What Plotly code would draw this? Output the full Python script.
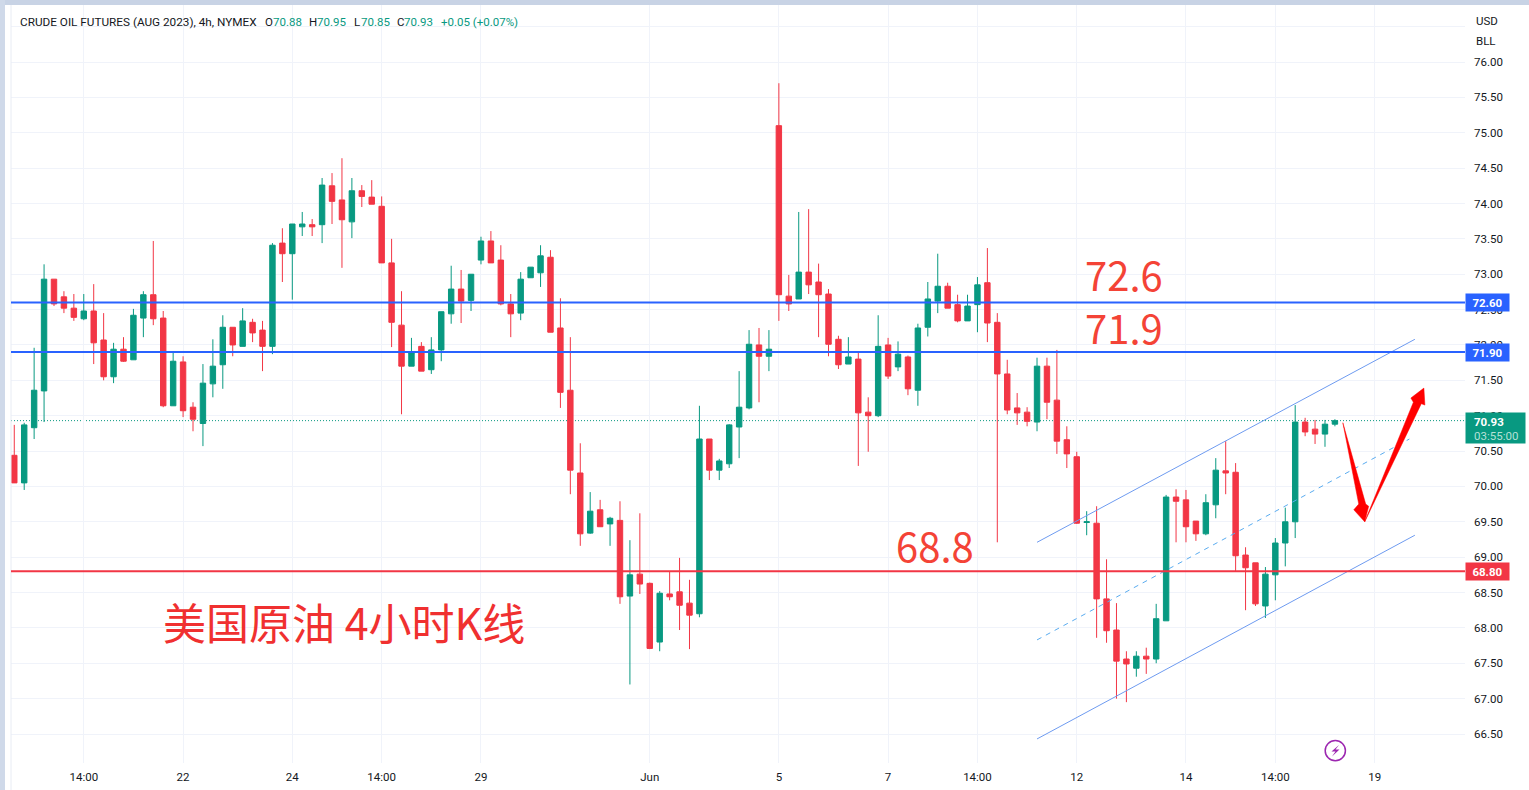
import plotly.graph_objects as go

opens = [70.44,70.05,70.83,71.35,72.93,72.68,72.52,72.37,72.48,72.07,
         71.55,71.94,71.79,72.38,72.71,72.38,71.14,71.76,71.12,70.89,
         71.45,71.72,72.25,71.98,72.32,72.21,71.98,73.44,73.29,73.67,
         73.70,73.70,74.25,74.05,73.74,74.18,74.09,73.96,73.16,72.28,
         71.70,71.98,71.65,71.93,72.44,72.79,72.63,73.20,73.47,73.20,
         72.58,72.45,72.95,73.02,73.24,72.24,71.36,70.19,69.34,69.67,
         69.47,69.52,68.45,68.76,68.63,67.80,68.48,68.51,68.35,68.20,
         70.67,70.23,70.32,70.84,71.11,72.00,71.84,75.10,72.69,72.65,
         73.03,72.89,72.72,72.08,71.73,71.80,71.05,71.00,72.00,71.69,
         71.83,71.36,72.25,72.62,72.83,72.57,72.34,72.57,72.88,72.32,
         71.59,71.11,71.05,70.91,71.70,71.22,70.66,70.42,69.49,69.48,
         68.41,67.97,67.56,67.43,67.60,67.56,68.10,69.85,69.81,69.51,
         69.33,69.74,70.22,70.20,69.03,68.92,68.31,68.75,69.20,69.50,
         70.91,70.81,70.74,70.88]
highs = [70.87,70.90,71.96,73.14,72.93,72.76,72.72,72.72,72.86,72.45,
         72.03,72.11,72.51,72.76,73.47,72.48,71.91,71.84,71.19,71.73,
         72.08,72.42,72.25,72.52,72.37,72.34,73.44,73.65,73.71,73.88,
         73.78,74.36,74.43,74.64,74.36,74.26,74.33,74.10,73.50,72.76,
         72.10,72.04,72.11,72.47,73.12,73.06,73.00,73.53,73.61,73.41,
         72.72,73.03,73.10,73.41,73.34,72.66,72.11,70.61,69.92,69.81,
         69.57,69.79,69.24,69.62,68.64,68.52,68.80,68.99,68.68,71.14,
         70.67,70.39,70.88,71.63,72.21,72.24,72.21,75.70,72.99,73.88,
         73.92,73.15,72.79,72.13,72.11,71.89,71.26,72.42,72.10,72.05,
         71.85,72.30,72.89,73.29,72.88,72.71,72.71,72.96,73.37,72.45,
         71.79,71.32,71.12,71.82,71.82,71.93,70.85,70.49,69.65,69.72,
         68.97,68.35,67.67,67.67,67.72,68.34,69.88,69.96,69.95,69.51,
         69.89,70.40,70.64,70.33,69.14,68.92,68.86,69.27,69.70,71.15,
         70.97,70.94,70.94,70.95]
lows = [70.05,69.95,70.67,70.91,72.55,72.45,72.34,72.35,71.73,71.50,
        71.46,71.76,71.79,72.11,72.28,71.12,71.14,70.98,70.78,70.57,
        71.26,71.38,71.84,71.98,72.04,71.63,71.87,72.89,72.64,73.54,
        73.54,73.44,73.71,73.09,73.51,73.95,73.99,73.16,71.97,71.02,
        71.70,71.63,71.59,71.77,72.30,72.31,72.48,73.14,73.16,72.56,
        72.11,72.35,72.95,72.82,72.18,71.11,69.89,69.16,69.33,69.43,
        69.16,68.34,67.20,68.48,67.70,67.67,68.39,67.97,67.70,68.15,
        70.09,70.09,70.26,70.40,71.09,71.19,71.63,72.34,72.48,72.65,
        72.72,72.11,71.84,71.66,71.73,70.29,70.49,70.98,71.52,71.63,
        71.29,71.14,72.12,72.45,72.52,72.32,72.34,72.18,72.04,69.21,
        71.02,70.87,70.85,70.78,70.95,70.46,70.26,69.47,69.31,67.86,
        67.79,67.00,66.95,67.31,67.35,67.50,68.10,69.21,69.21,69.23,
        69.31,69.55,69.89,68.80,68.25,68.31,68.14,68.39,68.87,69.27,
        70.71,70.60,70.56,70.85]
closes = [70.05,70.87,71.36,72.93,72.58,72.52,72.39,72.48,72.03,71.55,
          71.94,71.77,72.42,72.71,72.37,71.14,71.77,71.07,70.95,71.46,
          71.70,72.25,72.00,72.34,72.17,71.98,73.41,73.29,73.71,73.71,
          73.67,74.26,74.03,73.77,74.18,74.10,73.99,73.16,72.32,71.70,
          71.89,71.63,71.93,72.47,72.79,72.62,73.00,73.47,73.16,72.58,
          72.44,72.93,73.10,73.26,72.18,71.33,70.23,69.33,69.65,69.43,
          69.55,68.44,68.75,68.62,67.71,68.49,68.44,68.32,68.18,70.67,
          70.23,70.36,70.87,71.12,72.01,71.84,71.94,72.71,72.58,73.03,
          72.85,72.71,72.01,71.72,71.83,71.04,71.00,71.98,71.56,71.87,
          71.38,72.24,72.65,72.83,72.52,72.34,72.55,72.85,72.31,71.59,
          71.08,71.04,70.92,71.70,71.19,70.64,70.46,69.48,69.50,68.41,
          67.96,67.53,67.49,67.60,67.56,68.13,69.85,69.79,69.43,69.33,
          69.77,70.23,70.19,69.02,68.85,68.34,68.76,69.20,69.50,70.91,
          70.77,70.74,70.88,70.93]
bar_index = list(range(len(opens)))

tick_bars = [7, 17, 28, 37, 47, 64, 77, 88, 97, 107, 118, 127, 137]
tick_labels = ["14:00", "22", "24", "14:00", "29", "Jun", "5", "7", "14:00", "12", "14", "14:00", "19"]
price_ticks = [66.5, 67, 67.5, 68, 68.5, 69, 69.5, 70, 70.5, 71, 71.5, 72, 72.5, 73, 73.5, 74, 74.5, 75, 75.5, 76, 76.5]
price_labels = ["66.50", "67.00", "67.50", "68.00", "68.50", "69.00", "69.50", "70.00", "70.50", "71.00", "71.50",
                "72.00", "72.50", "73.00", "73.50", "74.00", "74.50", "75.00", "75.50", "76.00", ""]

level_a, level_b, level_c = 72.6, 71.9, 68.8
last_price = 70.93

channel_bars = [103.0, 141.05]
channel_upper = [69.21, 72.08]
channel_lower = [66.43, 69.31]
channel_mid_bars = [103.0, 140.5]
channel_mid = [67.83, 70.67]

arrow_down_bars = [133.8, 136.1, 136.4, 136.0, 134.9, 135.4, 133.8]
arrow_down_vals = [70.90, 69.75, 69.72, 69.50, 69.67, 69.75, 70.90]
arrow_up_bars = [136.0, 141.7, 142.06, 141.96, 140.65, 140.9, 136.0]
arrow_up_vals = [69.50, 71.17, 71.15, 71.39, 71.25, 71.19, 69.50]

GREEN, RED, BLUE = "#089981", "#f23645", "#2962ff"
TEXT = "#131722"
UIFONT = "Roboto"
UISIZE = 11.5
CJK = "Noto Sans CJK SC"
W, H = 1529, 790
L, R, T, B = 11, 64, 5, 27
PW, PH = W - L - R, H - T - B

def px(x):
    return (x - L) / PW

def py(y):
    return (H - B - y) / PH

fig = go.Figure()
fig.add_trace(go.Scatter(x=channel_bars, y=channel_upper, mode="lines", line=dict(color="#6e9bf0", width=1), hoverinfo="skip"))
fig.add_trace(go.Scatter(x=channel_bars, y=channel_lower, mode="lines", line=dict(color="#6e9bf0", width=1), hoverinfo="skip"))
fig.add_trace(go.Scatter(x=channel_mid_bars, y=channel_mid, mode="lines", line=dict(color="#5aacf0", width=1, dash="5px,5px"), hoverinfo="skip"))
fig.add_trace(go.Candlestick(
    x=bar_index, open=opens, high=highs, low=lows, close=closes,
    increasing=dict(line=dict(color=GREEN, width=1), fillcolor=GREEN),
    decreasing=dict(line=dict(color=RED, width=1), fillcolor=RED),
    whiskerwidth=0,
))
for xs, ys in ((arrow_down_bars, arrow_down_vals), (arrow_up_bars, arrow_up_vals)):
    fig.add_trace(go.Scatter(x=xs, y=ys, mode="lines", fill="toself", fillcolor="#ff0000",
                             line=dict(color="#ff0000", width=0.5), hoverinfo="skip"))

bolt_pts = [(1339, 745), (1331.5, 751.5), (1335.5, 751.5), (1332, 756.5), (1339.5, 749.5), (1335.5, 749.5)]
bolt_path = "M " + " L ".join(f"{px(a):.5f} {py(b):.5f}" for a, b in bolt_pts) + " Z"

shapes = [
    dict(type="rect", xref="paper", yref="paper", x0=px(0), x1=px(W), y0=py(5), y1=py(0),
         fillcolor="#c8d3e5", line_width=0, layer="above"),
    dict(type="rect", xref="paper", yref="paper", x0=px(0), x1=px(5), y0=py(H), y1=py(0),
         fillcolor="#cfd9e9", line_width=0, layer="above"),
    dict(type="line", xref="paper", yref="paper", x0=px(11), x1=px(11), y0=py(H), y1=py(5),
         line=dict(color="#e8ecf4", width=1)),
    dict(type="line", xref="paper", yref="y", x0=0, x1=1, y0=last_price, y1=last_price,
         line=dict(color=GREEN, width=1, dash="1px,2px"), layer="below"),
    dict(type="line", xref="paper", yref="y", x0=0, x1=1, y0=level_a, y1=level_a, line=dict(color=BLUE, width=2)),
    dict(type="line", xref="paper", yref="y", x0=0, x1=1, y0=level_b, y1=level_b, line=dict(color=BLUE, width=2)),
    dict(type="line", xref="paper", yref="y", x0=0, x1=1, y0=level_c, y1=level_c, line=dict(color=RED, width=2)),
    dict(type="circle", xref="paper", yref="paper", x0=px(1325.2), x1=px(1345.4), y0=py(760.8), y1=py(740.6),
         line=dict(color="#9c27b0", width=1.5)),
    dict(type="path", xref="paper", yref="paper", path=bolt_path, fillcolor="#9c27b0", line_width=0),
]

ann = []

def note(text, x, y, size, color, family=UIFONT, xanchor="left", **kw):
    ann.append(dict(text=text, x=px(x), y=py(y), xref="paper", yref="paper", xanchor=xanchor,
                    yanchor="middle", showarrow=False, font=dict(size=size, color=color, family=family),
                    borderpad=0, **kw))

note("CRUDE OIL FUTURES (AUG 2023), 4h, NYMEX", 19, 22, 11.75, TEXT)
for lab, lx, val, vx in (("O", 264, "70.88", 272), ("H", 308, "70.95", 316), ("L", 353, "70.85", 360), ("C", 396, "70.93", 403)):
    note(lab, lx, 22, UISIZE, TEXT)
    note(val, vx, 22, UISIZE, GREEN)
note("+0.05 (+0.07%)", 440, 22, UISIZE, GREEN)
note("USD", 1475, 21, UISIZE, TEXT)
note("BLL", 1475, 41, UISIZE, TEXT)

note("72.6", 1084, 274, 40, "#f44336", CJK)
note("71.9", 1084, 327, 40, "#f44336", CJK)
note("68.8", 895, 545, 40, "#f44336", CJK)
note("美国原油 4小时K线", 162, 621, 43, "#f03030", CJK)

for val, label, col in ((level_a, "72.60", BLUE), (level_b, "71.90", BLUE), (level_c, "68.80", RED)):
    ann.append(dict(text=f"<b>{label}</b>", x=px(1465), y=val, xref="paper", yref="y", xanchor="left",
                    yanchor="middle", showarrow=False, width=43, height=17, bgcolor=col, align="center",
                    font=dict(size=UISIZE, color="#ffffff", family=UIFONT), borderpad=0))
ann.append(dict(text=" ", x=px(1465), y=py(412), xref="paper", yref="paper",
                xanchor="left", yanchor="top", showarrow=False, width=59, height=30, bgcolor=GREEN,
                font=dict(size=UISIZE, color="#ffffff", family=UIFONT), borderpad=0))
note("<b>70.93</b>", 1473, 422, UISIZE, "#ffffff")
note("03:55:00", 1473, 436, UISIZE, "#b5e0d6")

fig.update_layout(
    width=W, height=H, margin=dict(l=L, r=R, t=T, b=B), showlegend=False,
    paper_bgcolor="#ffffff", plot_bgcolor="#ffffff", boxgap=0.22, hovermode=False,
    font=dict(family=UIFONT, size=UISIZE, color=TEXT),
    shapes=shapes, annotations=ann,
    xaxis=dict(range=[-0.33, 146.1], tickmode="array", tickvals=tick_bars, ticktext=tick_labels,
               showgrid=True, gridcolor="#f0f3fa", gridwidth=1, zeroline=False, rangeslider=dict(visible=False),
               ticks="", showline=False, ticklabelstandoff=5, tickfont=dict(size=UISIZE, color=TEXT, family=UIFONT)),
    yaxis=dict(range=[66.09, 76.806], side="right", tickmode="array", tickvals=price_ticks, ticktext=price_labels,
               showgrid=True, gridcolor="#f0f3fa", gridwidth=1, zeroline=False, showline=False, ticks="",
               ticklabelstandoff=8, tickfont=dict(size=UISIZE, color=TEXT, family=UIFONT)),
)
fig.write_html("out.html", config=dict(displayModeBar=False),
               post_script="document.body.style.margin='0';document.body.style.overflow='hidden';")
